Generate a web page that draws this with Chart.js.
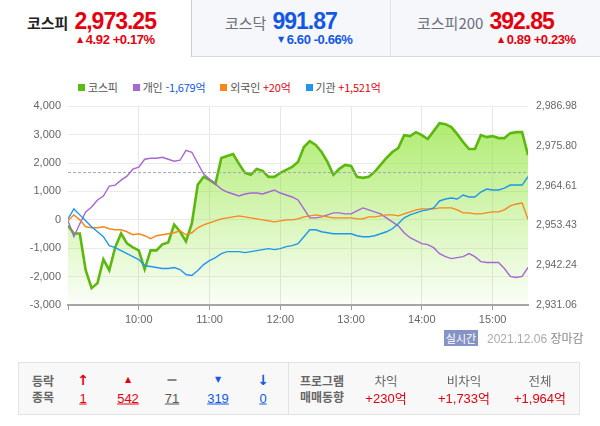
<!DOCTYPE html>
<html lang="ko">
<head>
<meta charset="utf-8">
<script src="https://cdn.jsdelivr.net/npm/chart.js@4.4.1/dist/chart.umd.min.js"></script>
<style>
  body { margin: 0; width: 600px; height: 426px; position: relative; overflow: hidden; background: #fff;
         font-family: "Liberation Sans", "Noto Sans CJK KR", sans-serif; }
  .abs { position: absolute; white-space: nowrap; line-height: 1; }
  .c { position: absolute; white-space: nowrap; line-height: 1; transform: translate(-50%, -50%); }
  .up { color: #e5000f; }
  .dn { color: #1258e6; }
  .tab { position: absolute; top: 0; height: 57px; box-sizing: border-box; }
  .tab.off { background: #f6f7fa; border-bottom: 1px solid #d6d9e0; }
  .nm { font-family: "Noto Sans CJK KR", sans-serif; font-size: 15px; color: #6b6f7b; }
  .val { font-size: 23px; font-weight: bold; letter-spacing: -1px; margin-left: 6px; }
  .chg { font-size: 13px; font-weight: bold; letter-spacing: -0.4px; }
  .tri { font-family: "DejaVu Sans", sans-serif; font-size: 8px; vertical-align: 2px; margin-right: 3px; }
  #legend { position: absolute; top: 80px; left: 78px; font-family: "Noto Sans CJK KR", sans-serif; font-size: 11px; color: #555; white-space: nowrap; line-height: 14px; letter-spacing: -0.2px; }
  #legend span.it { margin-right: 12px; }
  #legend i { display: inline-block; width: 7px; height: 7px; margin-right: 3px; vertical-align: 1px; }
  #wrap { position: absolute; left: 0; top: 92px; width: 600px; height: 238px; }
  .k { font-family: "Noto Sans CJK KR", sans-serif; }
  .lab { font-family: "Noto Sans CJK KR", sans-serif; font-size: 12px; color: #666; font-weight: bold; }
  .num { font-size: 13px; text-decoration: underline; }
  .cap { font-family: "Noto Sans CJK KR", sans-serif; font-size: 12.5px; color: #666; }
  .amt { font-size: 13px; color: #e5000f; }
</style>
</head>
<body>
<!-- 상단 지수 탭 -->
<div class="tab" style="left:0;width:192px;border-right:1px solid #c9ccd4;"></div>
<div class="tab off" style="left:192px;width:199px;border-right:1px solid #e1e3e8;"></div>
<div class="tab off" style="left:391px;width:209px;"></div>

<div class="abs" style="left:27px;top:10px;"><span class="nm" style="color:#222;font-weight:bold;">코스피</span><span class="val up">2,973.25</span></div>
<div class="abs chg up" style="left:77px;top:33px;"><span class="tri">▲</span>4.92 +0.17%</div>

<div class="abs" style="left:225px;top:10px;"><span class="nm">코스닥</span><span class="val dn">991.87</span></div>
<div class="abs chg dn" style="left:278px;top:33px;"><span class="tri">▼</span>6.60 -0.66%</div>

<div class="abs" style="left:417px;top:10px;"><span class="nm">코스피200</span><span class="val up">392.85</span></div>
<div class="abs chg up" style="left:498px;top:33px;"><span class="tri">▲</span>0.89 +0.23%</div>

<!-- 범례 -->
<div id="legend">
  <span class="it"><i style="background:#5cbb10"></i>코스피</span>
  <span class="it"><i style="background:#a566d6"></i>개인 <span class="dn">-1,679억</span></span>
  <span class="it"><i style="background:#f7861c"></i>외국인 <span class="up">+20억</span></span>
  <span class="it"><i style="background:#1e96f0"></i>기관 <span class="up">+1,521억</span></span>
</div>

<div id="wrap"><canvas id="chart" width="600" height="238"></canvas></div>

<!-- 하단 -->
<div class="abs k" style="left:444px;top:330px;width:34px;height:16px;line-height:16px;text-align:center;background:#8594c4;color:#fff;font-size:11px;">실시간</div>
<div class="abs" style="left:487px;top:332px;font-size:12px;color:#aaa;">2021.12.06 <span class="k" style="color:#888;">장마감</span></div>

<div class="abs" style="left:18px;top:362px;width:560px;height:51px;border:1px solid #e3e3e3;background:#f8f8f8;"></div>
<div class="abs" style="left:288px;top:363px;width:1px;height:51px;background:#e3e3e3;"></div>

<div class="c lab" style="left:43px;top:381px;">등락</div>
<div class="c lab" style="left:43px;top:397px;">종목</div>
<div class="c up" style="left:83px;top:380px;font-family:'DejaVu Sans';font-size:14px;font-weight:bold;">↑</div>
<div class="c up" style="left:128px;top:380px;font-family:'DejaVu Sans';font-size:8px;">▲</div>
<div class="c" style="left:172px;top:380px;width:9px;height:2px;background:#888;"></div>
<div class="c dn" style="left:218px;top:380px;font-family:'DejaVu Sans';font-size:8px;">▼</div>
<div class="c dn" style="left:263px;top:380px;font-family:'DejaVu Sans';font-size:14px;font-weight:bold;">↓</div>
<div class="c num up" style="left:83px;top:398px;">1</div>
<div class="c num up" style="left:128px;top:398px;">542</div>
<div class="c num" style="left:172px;top:398px;color:#555;">71</div>
<div class="c num dn" style="left:218px;top:398px;">319</div>
<div class="c num dn" style="left:263px;top:398px;">0</div>

<div class="c lab" style="left:322px;top:381px;">프로그램</div>
<div class="c lab" style="left:322px;top:397px;">매매동향</div>
<div class="c cap" style="left:386px;top:381px;">차익</div>
<div class="c cap" style="left:464px;top:381px;">비차익</div>
<div class="c cap" style="left:540px;top:381px;">전체</div>
<div class="c amt" style="left:386px;top:398px;">+230<span class="k">억</span></div>
<div class="c amt" style="left:464px;top:398px;">+1,733<span class="k">억</span></div>
<div class="c amt" style="left:540px;top:398px;">+1,964<span class="k">억</span></div>

<script>
// 5분 간격 (09:00 ~ 15:30)
const kospi = [2953.43, 2951.19, 2951.19, 2940.85, 2935.81, 2937.21, 2943.92, 2940.85, 2947.28, 2951.19,
  2948.40, 2947.28, 2946.44, 2941.13, 2946.44, 2946.44, 2948.12, 2948.67, 2953.71, 2951.75,
  2948.95, 2953.99, 2964.89, 2967.13, 2966.29, 2965.17, 2972.44, 2973.00, 2973.56, 2970.76,
  2968.25, 2967.69, 2969.37, 2968.81, 2967.13, 2967.13, 2968.25, 2969.09, 2969.92, 2971.32,
  2975.52, 2977.19, 2976.08, 2974.12, 2971.32, 2967.69, 2969.37, 2970.48, 2970.20, 2967.13,
  2966.85, 2967.13, 2968.53, 2970.48, 2972.44, 2974.12, 2975.24, 2978.87, 2978.59, 2979.71,
  2978.87, 2977.75, 2979.99, 2982.23, 2981.95, 2981.11, 2979.15, 2976.91, 2974.96, 2974.96,
  2978.87, 2978.31, 2978.59, 2978.03, 2978.03, 2979.43, 2979.71, 2979.71, 2973.25];

const individual = [-35, -595, -140, 280, 455, 700, 840, 1190, 1225, 1400,
  1540, 1785, 1855, 2135, 2170, 2170, 2205, 2135, 2065, 2100,
  2450, 2380, 1995, 1610, 1435, 1260, 1085, 980, 910, 840,
  910, 945, 945, 910, 980, 1050, 945, 875, 805, 700,
  385, 70, 70, 105, 175, 245, 245, 210, 210, 315,
  420, 350, 280, 210, 70, -70, -210, -455, -630, -735,
  -840, -875, -980, -1190, -1295, -1365, -1330, -1295, -1190, -1295,
  -1470, -1505, -1505, -1505, -1715, -1995, -2030, -1995, -1679];

const foreign = [-35, 175, 0, -245, -280, -280, -245, -315, -350, -350,
  -420, -525, -490, -560, -665, -560, -525, -490, -455, -385,
  -525, -455, -280, -175, -105, -35, 35, 70, 105, 140,
  105, 70, 35, 0, -35, -70, -35, 0, 0, 35,
  105, 140, 175, 140, 105, 70, 70, 70, 70, 35,
  35, 105, 105, 140, 175, 175, 140, 210, 280, 350,
  385, 385, 385, 420, 420, 420, 350, 245, 245, 210,
  210, 245, 280, 280, 350, 490, 560, 595, 20];

const institution = [35, 385, 175, -35, -245, -420, -595, -910, -980, -1085,
  -1190, -1295, -1400, -1610, -1645, -1680, -1715, -1715, -1680, -1750,
  -1925, -1960, -1785, -1575, -1435, -1330, -1190, -1120, -1120, -1120,
  -1155, -1120, -1085, -1050, -1015, -1050, -1015, -945, -910, -840,
  -595, -350, -350, -420, -455, -490, -490, -490, -490, -560,
  -595, -595, -560, -490, -420, -315, -140, 70, 175, 245,
  315, 350, 420, 665, 735, 770, 735, 875, 805, 805,
  980, 1085, 1050, 1050, 1120, 1225, 1225, 1225, 1521];

const prevClose = 2968.33;
const rightTicks = [2931.06, 2942.24, 2953.43, 2964.61, 2975.80, 2986.98];
const leftTicks = [-3000, -2000, -1000, 0, 1000, 2000, 3000, 4000];
const hourTicks = [0, 60, 120, 180, 240, 300, 360];   // 09:00 기준 분

const minutes = kospi.map((_, i) => i * 5);
const pts = arr => arr.map((v, i) => ({ x: minutes[i], y: v }));

const lineDs = (label, arr, color, order) => ({
  label: label, data: pts(arr), yAxisID: 'y', borderColor: color, borderWidth: 1.4,
  pointRadius: 0, tension: 0, fill: false, order: order
});

new Chart(document.getElementById('chart'), {
  type: 'line',
  data: {
    datasets: [
      lineDs('개인', individual, '#a566d6', 3),
      lineDs('외국인', foreign, '#f7861c', 2),
      lineDs('기관', institution, '#1e96f0', 1),
      {
        label: '전일종가',
        data: [{ x: 0, y: prevClose }, { x: 390, y: prevClose }],
        yAxisID: 'y1', borderColor: '#a9a3b8', borderWidth: 1, borderDash: [3, 2],
        pointRadius: 0, fill: false, order: 4
      },
      {
        label: '코스피',
        data: pts(kospi),
        yAxisID: 'y1',
        borderColor: '#5cb80e',
        borderWidth: 2.6,
        pointRadius: 0,
        tension: 0,
        fill: 'start',
        backgroundColor: function (c) {
          const a = c.chart.chartArea;
          if (!a) return 'rgba(140,228,50,0.5)';
          const g = c.chart.ctx.createLinearGradient(0, a.top, 0, a.bottom);
          g.addColorStop(0, 'rgba(140,228,50,0.75)');
          g.addColorStop(1, 'rgba(140,228,50,0.03)');
          return g;
        },
        order: 10
      }
    ]
  },
  options: {
    responsive: false,
    animation: false,
    layout: { padding: { top: 5, left: 0, right: 0, bottom: 0 } },
    plugins: { legend: { display: false }, tooltip: { enabled: false } },
    scales: {
      x: {
        type: 'linear', min: 0, max: 390,
        afterBuildTicks: s => { s.ticks = hourTicks.map(v => ({ value: v })); },
        afterFit: s => { s.height = 25; },
        ticks: {
          autoSkip: false, maxRotation: 0, padding: 3, color: '#666',
          font: { size: 11, family: 'Liberation Sans' },
          callback: v => v === 0 ? '' : (9 + v / 60) + ':00'
        },
        grid: {
          color: c => c.tick && c.tick.value === 0 ? 'rgba(0,0,0,0)' : '#e6e6e6',
          tickColor: '#999', tickLength: 5
        },
        border: { color: '#a6a6a6', width: 2 }
      },
      y: {
        position: 'left', min: -3000, max: 4000,
        afterBuildTicks: s => { s.ticks = leftTicks.map(v => ({ value: v })); },
        afterFit: s => { s.width = 68; },
        ticks: {
          padding: 7, color: '#666', font: { size: 11, family: 'Liberation Sans' },
          callback: v => v.toLocaleString('en-US')
        },
        grid: { color: '#ebebeb', drawTicks: false },
        border: { display: false }
      },
      y1: {
        position: 'right', min: rightTicks[0], max: rightTicks[rightTicks.length - 1],
        afterBuildTicks: s => { s.ticks = rightTicks.map(v => ({ value: v })); },
        afterFit: s => { s.width = 72; },
        ticks: {
          padding: 8, color: '#666', font: { size: 10.5, family: 'Liberation Sans' },
          callback: v => v.toLocaleString('en-US', { minimumFractionDigits: 2, maximumFractionDigits: 2 })
        },
        grid: { display: false, drawTicks: false },
        border: { display: false }
      }
    }
  }
});
</script>
</body>
</html>
